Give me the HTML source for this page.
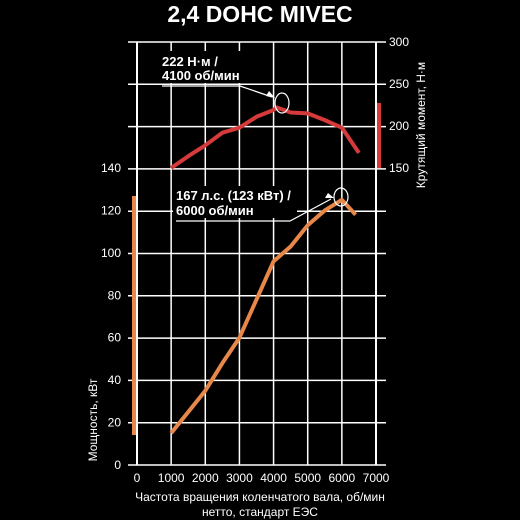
<!DOCTYPE html>
<html><head><meta charset="utf-8"><style>
body{margin:0;background:#000;}
svg{display:block;font-family:"Liberation Sans",sans-serif;}
</style></head><body>
<svg id="c" width="520" height="520" viewBox="0 0 520 520">
<rect width="520" height="520" fill="#000"/>
<text x="260" y="22" text-anchor="middle" fill="#fff" font-size="23" font-weight="bold">2,4 DOHC MIVEC</text>
<g id="grid"></g>
<g id="ticks" fill="#fff" font-size="12"></g>
<text x="97" y="420" transform="rotate(-90 97 420)" text-anchor="middle" fill="#fff" font-size="12">Мощность, кВт</text>
<text x="425" y="125" transform="rotate(-90 425 125)" text-anchor="middle" fill="#fff" font-size="12">Крутящий момент, Н·м</text>
<text x="260" y="501" text-anchor="middle" fill="#fff" font-size="12">Частота вращения коленчатого вала, об/мин</text>
<text x="260" y="516" text-anchor="middle" fill="#fff" font-size="12">нетто, стандарт ЕЭС</text>
<rect x="132" y="196" width="4" height="239" fill="#e8874a"/>
<rect x="377" y="103" width="4" height="65" fill="#d63a3a"/>
<g id="series"></g>
<rect x="159" y="51" width="82" height="32" fill="#000"/>
<rect x="173" y="186" width="124" height="32" fill="#000"/>
<g fill="#fff" font-size="13" font-weight="bold">
<text x="162" y="66">222 Н·м /</text>
<text x="162" y="80">4100 об/мин</text>
<text x="176" y="200">167 л.с. (123 кВт) /</text>
<text x="176" y="215">6000 об/мин</text>
</g>
<g stroke="#fff" fill="none" stroke-width="1.2">
<polyline points="162,86 240,86 272,97"/>
<ellipse cx="282" cy="103" rx="7" ry="10"/>
<polyline points="176,221 290,221 331,199"/>
<ellipse cx="341" cy="197" rx="7" ry="9"/>
</g>
<polygon points="275,98 266,96 269,91" fill="#fff"/>
<polygon points="334,198 325,198 328,193" fill="#fff"/>
</svg>
<script>
const rpm=[1000,1500,2000,2500,3000,3500,4000,4500,5000,5500,6000,6400];
const powerKw=[15,25,35,48,60,78,96,103,113,120,125,118];
const torqueRpm=[1000,1500,2000,2500,3000,3500,4000,4100,4500,5000,5500,6000,6500];
const torqueNm=[150,164,177,192,198,211,219,222,216,215,207,198,168];
const xTicks=[0,1000,2000,3000,4000,5000,6000,7000];
const pTicks=[0,20,40,60,80,100,120,140];
const tTicks=[150,200,250,300];
const ns="http://www.w3.org/2000/svg";
const X=v=>137+v*(376-137)/7000;
const YP=v=>465-v*(465-168)/140;
const YT=v=>168-(v-150)*(168-42)/150;
const grid=document.getElementById('grid'),ticks=document.getElementById('ticks'),ser=document.getElementById('series');
function mk(t,a,p){const e=document.createElementNS(ns,t);for(const k in a)e.setAttribute(k,a[k]);p.appendChild(e);return e;}
for(let i=0;i<=10;i++){const y=465-i*42.3;
const l=mk('line',{x1:128,x2:386,y1:y,y2:y,stroke:'#fff','stroke-width':1.5},grid);

}
xTicks.forEach(v=>{const l=mk('line',{x1:X(v),x2:X(v),y1:42,y2:465,stroke:'#fff','stroke-width':v==0||v==7000?2:1.5},grid);


const t=mk('text',{x:X(v),y:482,'text-anchor':'middle'},ticks);t.textContent=v;

});
pTicks.forEach(v=>{const t=mk('text',{x:121,y:YP(v)+4,'text-anchor':'end'},ticks);t.textContent=v;

});
tTicks.forEach(v=>{const t=mk('text',{x:389,y:YT(v)+4},ticks);t.textContent=v;

});
const tp=mk('polyline',{points:torqueRpm.map((r,i)=>X(r)+','+YT(torqueNm[i])).join(' '),fill:'none',stroke:'#d63a3a','stroke-width':4,'stroke-linejoin':'round'},ser);


const pp=mk('polyline',{points:rpm.map((r,i)=>X(r)+','+YP(powerKw[i])).join(' '),fill:'none',stroke:'#e8874a','stroke-width':4,'stroke-linejoin':'round'},ser);


</script>
</body></html>
